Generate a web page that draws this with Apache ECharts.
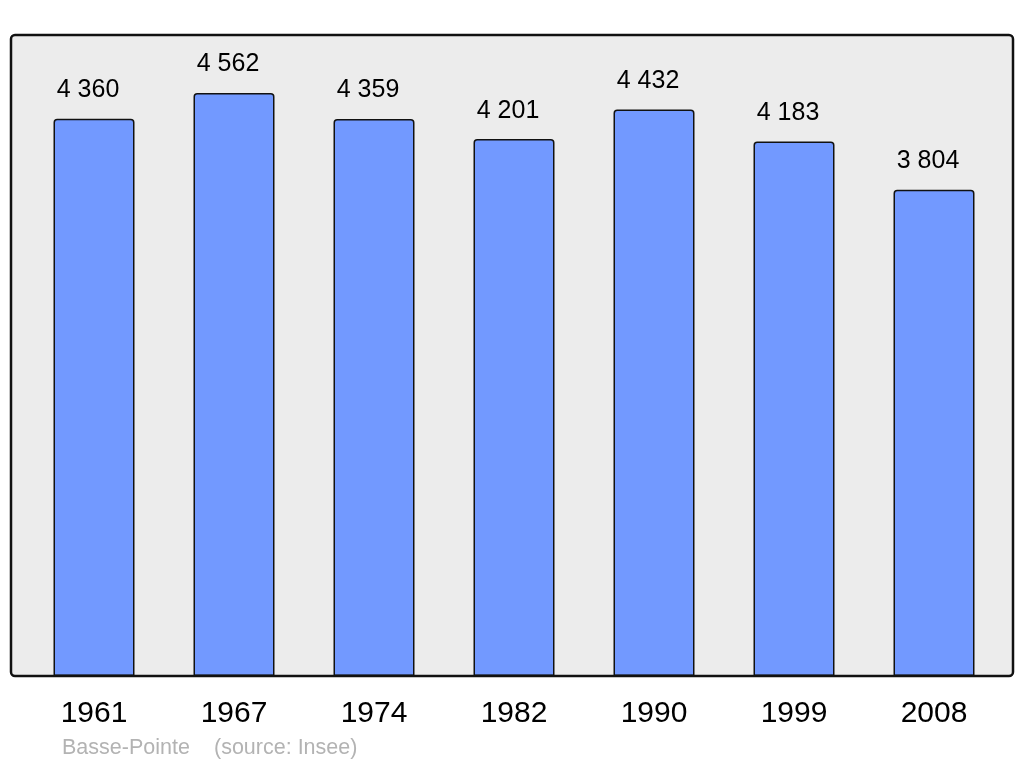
<!DOCTYPE html>
<html>
<head>
<meta charset="utf-8">
<script src="https://cdn.jsdelivr.net/npm/echarts@6/dist/echarts.min.js"></script>
<style>
html,body{margin:0;padding:0;background:#fff;}
#chart{width:1024px;height:765px;}
</style>
</head>
<body>
<div id="chart"></div>
<script>
const years = ['1961', '1967', '1974', '1982', '1990', '1999', '2008'];
const population = [4360, 4562, 4359, 4201, 4432, 4183, 3804];
const footerName = 'Basse-Pointe';
const footerSource = '(source: Insee)';

const chart = echarts.init(document.getElementById('chart'));
const FONT = '"Liberation Sans", Arial, sans-serif';
chart.setOption({
  animation: false,
  grid: { left: 24, right: 20, top: 37, bottom: 89, containLabel: false },
  xAxis: {
    type: 'category',
    data: years,
    axisLine: { show: false },
    axisTick: { show: false },
    axisLabel: { margin: 23, fontSize: 30, color: '#000', fontFamily: FONT }
  },
  yAxis: {
    type: 'value', min: 0, max: 5000, show: false,
    splitLine: { show: false }
  },
  graphic: [
    { type: 'rect', z: -10, shape: { x: 11, y: 35, width: 1002, height: 641, r: 4 },
      style: { fill: '#ececec', stroke: null } },
    { type: 'rect', z: 100, shape: { x: 11, y: 35, width: 1002, height: 641, r: 4 },
      style: { fill: null, stroke: '#111', lineWidth: 2.5 } },
    { type: 'text', z: 100, left: 62, top: 737,
      style: { text: footerName, fill: '#b3b3b3', font: '21.5px ' + FONT } },
    { type: 'text', z: 100, left: 214, top: 737,
      style: { text: footerSource, fill: '#b3b3b3', font: '21.5px ' + FONT } }
  ],
  series: [{
    type: 'bar',
    data: population,
    barWidth: 81,
    itemStyle: { color: '#7299ff', borderColor: '#111', borderWidth: 1.5, borderRadius: [3, 3, 0, 0] },
    label: {
      show: true, position: 'top', distance: 16, offset: [-6, 0],
      fontSize: 25, color: '#000', fontFamily: FONT,
      formatter: p => String(p.value).replace(/\B(?=(\d{3})+(?!\d))/g, ' ')
    }
  }]
});
</script>
</body>
</html>
